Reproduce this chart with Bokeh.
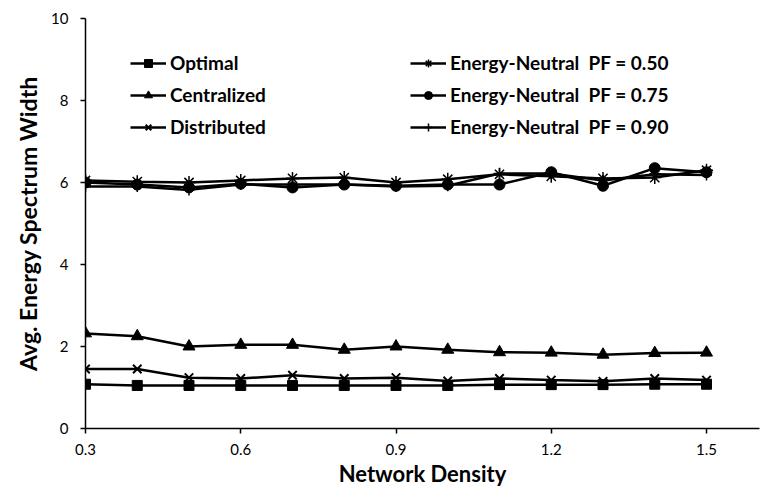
from bokeh.plotting import figure
from bokeh.models import Range1d, FixedTicker, Legend, LegendItem, BoxAnnotation
from bokeh.embed import file_html
from bokeh.resources import INLINE

density = [0.3, 0.4, 0.5, 0.6, 0.7, 0.8, 0.9, 1.0, 1.1, 1.2, 1.3, 1.4, 1.5]
optimal = [1.08, 1.05, 1.05, 1.05, 1.05, 1.05, 1.05, 1.05, 1.07, 1.07, 1.07, 1.08, 1.08]
centralized = [2.32, 2.25, 2.0, 2.04, 2.04, 1.92, 2.0, 1.92, 1.86, 1.85, 1.8, 1.84, 1.85]
distributed = [1.45, 1.45, 1.24, 1.22, 1.3, 1.22, 1.24, 1.16, 1.22, 1.18, 1.15, 1.22, 1.18]
pf050 = [6.05, 6.02, 6.0, 6.05, 6.1, 6.12, 6.0, 6.08, 6.2, 6.15, 6.1, 6.12, 6.3]
pf075 = [6.0, 5.95, 5.88, 5.97, 5.88, 5.95, 5.92, 5.95, 5.95, 6.25, 5.92, 6.35, 6.25]
pf090 = [5.9, 5.9, 5.82, 5.95, 5.95, 5.95, 5.9, 5.92, 6.22, 6.22, 6.05, 6.2, 6.18]

x_ticks = [0.3, 0.6, 0.9, 1.2, 1.5]
y_ticks = [0, 2, 4, 6, 8, 10]

FONT = "Lato"

p = figure(width=762, height=494, output_backend="svg", toolbar_location=None,
           x_range=Range1d(0.3, 1.6024), y_range=Range1d(0, 10),
           min_border_left=85, min_border_top=18, min_border_right=3,
           min_border_bottom=66)
p.outline_line_color = None
p.xgrid.visible = False
p.ygrid.visible = False

# outer chart border (left and top edges visible in the reference)
p.add_layout(BoxAnnotation(left=4, right=2000, top=4, bottom=2000,
                           left_units="canvas", right_units="canvas",
                           top_units="canvas", bottom_units="canvas",
                           fill_alpha=0, line_color="black", line_width=1,
                           level="underlay"))

series = [
    ("Optimal", optimal, "square", 10, 1),
    ("Centralized", centralized, "triangle", 12, 1),
    ("Distributed", distributed, "x", 12, 2),
    ("Energy-Neutral  PF = 0.50", pf050, "asterisk", 13, 1.5),
    ("Energy-Neutral  PF = 0.75", pf075, "circle", 11, 1),
    ("Energy-Neutral  PF = 0.90", pf090, "cross", 11, 1.5),
]

items = []
for name, ys, marker, size, lw in series:
    r1 = p.line(density, ys, line_color="black", line_width=2.5)
    r2 = p.scatter(density, ys, marker=marker, size=size, line_color="black",
                   fill_color="black", line_width=lw)
    items.append(LegendItem(label=name, renderers=[r1, r2]))

def make_legend(its, loc):
    return Legend(items=its, location=loc, glyph_width=36, glyph_height=20,
                  label_height=20, spacing=9, padding=0, margin=0,
                  label_standoff=4, border_line_color=None,
                  background_fill_alpha=0, label_text_font=FONT,
                  label_text_font_style="bold", label_text_font_size="19px",
                  label_text_color="black")

p.add_layout(make_legend(items[:3], (45, 290)))
p.add_layout(make_legend(items[3:], (325, 290)))

for ax in (p.xaxis, p.yaxis):
    ax.axis_line_color = "black"
    ax.axis_line_width = 1.5
    ax.major_tick_line_color = "black"
    ax.major_tick_line_width = 1.5
    ax.major_tick_in = 0
    ax.major_tick_out = 5
    ax.minor_tick_line_color = None
    ax.major_label_text_font = FONT
    ax.major_label_text_font_size = "15px"
    ax.major_label_text_color = "black"
    ax.axis_label_text_font = FONT
    ax.axis_label_text_font_style = "bold"
    ax.axis_label_text_color = "black"

p.xaxis.axis_label_text_font_size = "22px"
p.yaxis.axis_label_text_font_size = "23px"
p.xaxis.ticker = FixedTicker(ticks=x_ticks)
p.yaxis.ticker = FixedTicker(ticks=y_ticks)
p.xaxis.axis_label = "Network Density"
p.yaxis.axis_label = "Avg. Energy Spectrum Width"
p.xaxis.major_label_standoff = 10
p.yaxis.major_label_standoff = 12
p.xaxis.axis_label_standoff = 2
p.yaxis.axis_label_standoff = 6

open("out.html", "w").write(file_html(p, INLINE))
